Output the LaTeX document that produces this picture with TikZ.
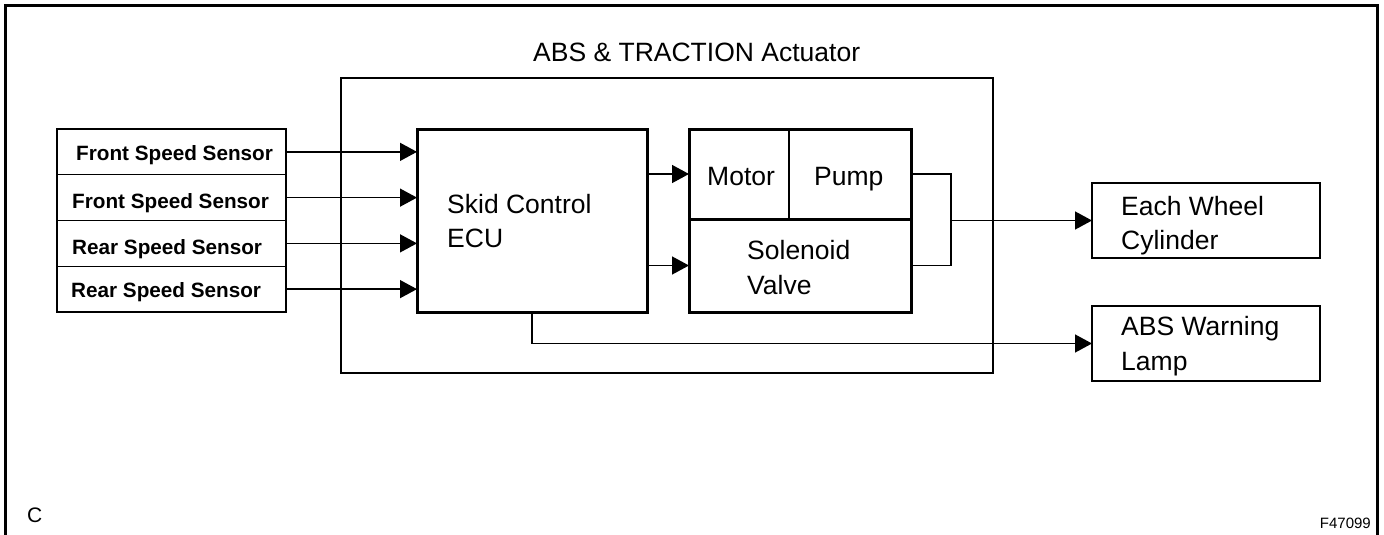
\documentclass[tikz,border=0pt]{standalone}
\usepackage{fontspec}
\setmainfont{Liberation Sans}
\usetikzlibrary{arrows.meta}
\tikzset{
  thinbox/.style={draw, line width=1.4pt, rectangle, inner sep=0pt, outer sep=0pt},
  thickbox/.style={draw, line width=3pt, rectangle, inner sep=0pt, outer sep=0pt},
  ghost/.style={rectangle, inner sep=0pt, outer sep=0pt},
  txt/.style={anchor=base west, inner sep=0pt, font=\fontsize{26.5}{30}\selectfont},
  stxt/.style={anchor=base west, inner sep=0pt, font=\fontsize{20.7}{24}\selectfont\bfseries},
  arr/.style={-{Triangle[length=17pt,width=18pt]}, line width=1.4pt},
  wire/.style={line width=1.4pt},
}
\begin{document}
\begin{tikzpicture}[x=1pt,y=-1pt]
\useasboundingbox (0,0) rectangle (1384,535);
% outer frame
\draw[line width=3pt] (5.5,535) -- (5.5,5.5) -- (1377,5.5) -- (1377,535);

% actuator box
\node[thinbox, minimum width=652pt, minimum height=295pt] (act) at (667,225.5) {};
\node[txt] (title) at (533,62) {ABS \& TRACTION Actuator};

% sensors
\node[thinbox, minimum width=229pt, minimum height=45.75pt] (s1) at (171.5,151.875) {};
\node[thinbox, minimum width=229pt, minimum height=45.75pt] (s2) at (171.5,197.625) {};
\node[thinbox, minimum width=229pt, minimum height=45.75pt] (s3) at (171.5,243.375) {};
\node[thinbox, minimum width=229pt, minimum height=45.75pt] (s4) at (171.5,289.125) {};
\node[stxt] (t1) at (76,160.7) {Front Speed Sensor};
\node[stxt] (t2) at (72,208.3) {Front Speed Sensor};
\node[stxt] (t3) at (72,254.3) {Rear Speed Sensor};
\node[stxt] (t4) at (71,297.3) {Rear Speed Sensor};

% ECU
\node[thickbox, minimum width=230pt, minimum height=183pt] (ecu) at (532,220.5) {};
\node[txt] (ecuA) at (447,213) {Skid Control};
\node[txt] (ecuB) at (447,247) {ECU};

% valve block
\node[ghost, minimum width=100pt, minimum height=90pt] (motor) at (739,174) {};
\node[ghost, minimum width=122pt, minimum height=90pt] (pump) at (850,174) {};
\node[ghost, minimum width=222pt, minimum height=93pt] (sol) at (800,265.5) {};
\draw[line width=1.4pt] (motor.north east) -- (motor.south east);
\draw[line width=3pt] (sol.north west) -- (sol.north east);
\node[thickbox, minimum width=222pt, minimum height=183pt] (valve) at (800,220.5) {};
\node[txt] (motorT) at (707,185) {Motor};
\node[txt] (pumpT) at (814,185) {Pump};
\node[txt] (solA) at (747,259) {Solenoid};
\node[txt] (solB) at (747,294) {Valve};

% outputs
\node[thinbox, minimum width=228pt, minimum height=75pt] (wheel) at (1206,220.5) {};
\node[thinbox, minimum width=228pt, minimum height=75pt] (lamp) at (1206,343.5) {};
\node[txt] (wA) at (1121,215) {Each Wheel};
\node[txt] (wB) at (1121,249) {Cylinder};
\node[txt] (lA) at (1121,335) {ABS Warning};
\node[txt] (lB) at (1121,370) {Lamp};

% connectors
\draw[arr] (s1.east) -- (s1.east -| ecu.west);
\draw[arr] (s2.east) -- (s2.east -| ecu.west);
\draw[arr] (s3.east) -- (s3.east -| ecu.west);
\draw[arr] (s4.east) -- (s4.east -| ecu.west);
\draw[arr] (motor.west -| ecu.east) -- (motor.west);
\draw[arr] (sol.west -| ecu.east) -- (sol.west);
\coordinate (jn) at (951,220.5);
\draw[wire] (pump.east) -| (jn) |- (sol.east);
\draw[arr] (jn) -- (wheel.west);
\draw[arr] (ecu.south) |- (lamp.west);

% labels
\node[anchor=base west, inner sep=0pt, font=\fontsize{21}{24}\selectfont] (cl) at (27,522) {C};
\node[anchor=base east, inner sep=0pt, font=\fontsize{15}{18}\selectfont] (fig) at (1371,528) {F47099};
\end{tikzpicture}
\end{document}
